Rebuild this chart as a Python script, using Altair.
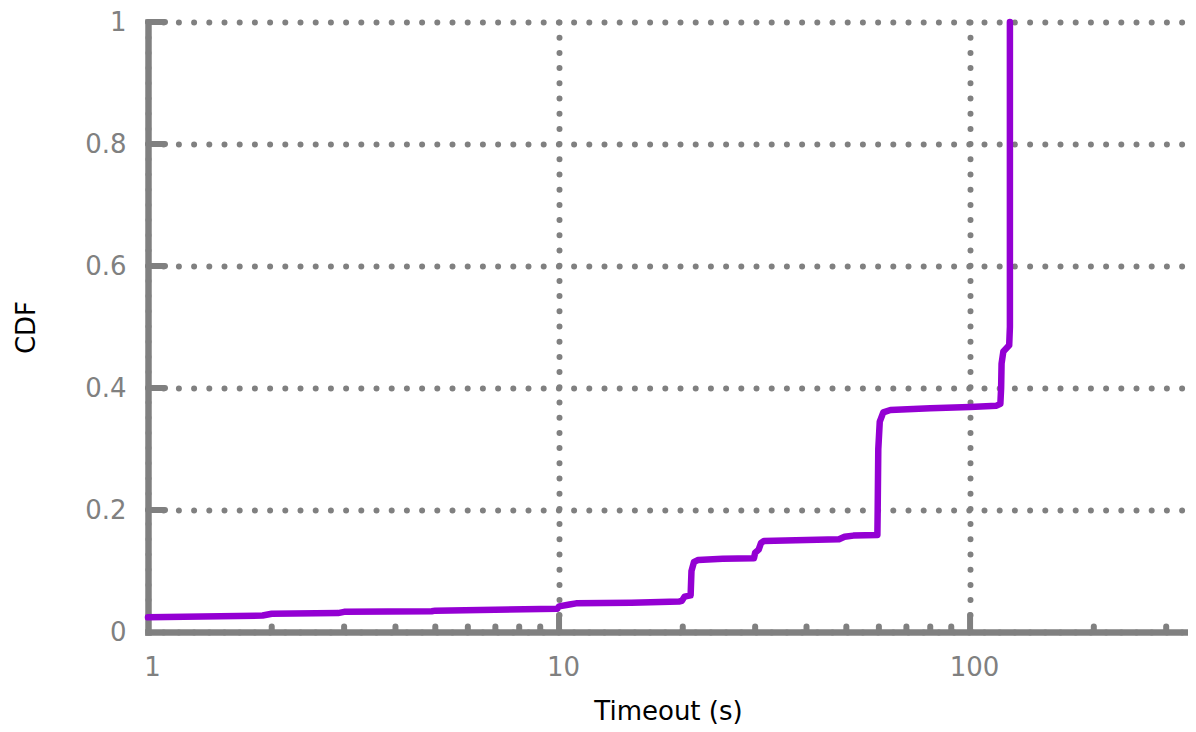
import altair as alt
import pandas as pd

# CDF curve (Timeout in seconds, cumulative fraction)
timeout_s = [1.0, 1.9, 2.0, 2.9, 3.0, 4.9, 5.0, 9.9, 10.0, 10.6, 11.0, 15.0, 19.6, 19.9,
             20.2, 20.9, 21.0, 21.3, 21.8, 25.0, 29.8, 30.0, 30.6, 31.0, 31.5, 40.0, 48.0,
             49.5, 52.0, 59.5, 59.6, 59.8, 60.3, 61.5, 64.0, 80.0, 100.0, 116.0, 118.5,
             119.0, 119.3, 120.5, 124.5, 125.0, 125.0]
cdf = [0.024, 0.027, 0.030, 0.031, 0.033, 0.034, 0.035, 0.038, 0.042, 0.045, 0.047, 0.048,
       0.050, 0.051, 0.058, 0.060, 0.100, 0.115, 0.118, 0.120, 0.121, 0.130, 0.135, 0.146,
       0.149, 0.151, 0.152, 0.156, 0.158, 0.159, 0.200, 0.300, 0.345, 0.360, 0.364, 0.367,
       0.369, 0.371, 0.374, 0.400, 0.440, 0.460, 0.470, 0.500, 1.000]

x_major = [1, 10, 100]
x_minor = [2, 3, 4, 5, 6, 7, 8, 9, 20, 30, 40, 50, 60, 70, 80, 90, 200, 300]
y_major = [0, 0.2, 0.4, 0.6, 0.8, 1.0]
x_domain = [1, 339]

GRAY = "#808080"
PURPLE = "#9400D3"
FONT = "DejaVu Sans"

curve = pd.DataFrame({"t": timeout_s, "cdf": cdf, "i": range(len(cdf))})
xticks = pd.DataFrame({
    "t": x_major[1:] + x_minor,
    "y0": [0.0] * (len(x_major) - 1 + len(x_minor)),
    "y1": [0.028] * (len(x_major) - 1) + [0.009] * len(x_minor),
})
yticks = pd.DataFrame({"v": y_major[1:], "x0": [1.0] * 5, "x1": [1.1] * 5})

xscale = alt.Scale(type="log", domain=x_domain, nice=False)
yscale = alt.Scale(domain=[0, 1], nice=False)

xaxis = alt.Axis(values=x_major, title="Timeout (s)", format="~g", ticks=False,
                 labelFlush=False, labelPadding=22, labelOffset=4,
                 titleY=66, titleBaseline="top")
yaxis = alt.Axis(values=y_major, title="CDF", format="~g", ticks=False,
                 labelFlush=False, labelPadding=22, titleX=-122, titleY=305,
                 titleAngle=-90, titleBaseline="middle", titleAlign="center")

tick_x = alt.Chart(xticks).mark_rule(color=GRAY, strokeWidth=6, strokeCap="round").encode(
    x=alt.X("t:Q", scale=xscale, axis=xaxis),
    y=alt.Y("y0:Q", scale=yscale, axis=yaxis),
    y2="y1:Q",
)
tick_y = alt.Chart(yticks).mark_rule(color=GRAY, strokeWidth=6, strokeCap="round").encode(
    x=alt.X("x0:Q", scale=xscale),
    x2="x1:Q",
    y=alt.Y("v:Q", scale=yscale),
)
line = alt.Chart(curve).mark_line(color=PURPLE, strokeWidth=6.5, strokeCap="round",
                                  strokeJoin="round").encode(
    x=alt.X("t:Q", scale=xscale),
    y=alt.Y("cdf:Q", scale=yscale),
    order="i:Q",
)

chart = alt.layer(tick_x, tick_y, line).properties(
    width=1040, height=610,
    autosize=alt.AutoSizeParams(type="none"),
    padding={"left": 140, "top": 14, "right": 0, "bottom": 92},
).configure_view(stroke=None).configure_axis(
    domainColor=GRAY, domainWidth=6.5, domainCap="square",
    grid=True, gridColor=GRAY, gridWidth=6, gridDash=[0, 15.2], gridCap="round",
    labelColor=GRAY, labelFont=FONT, labelFontSize=26, labelFontWeight="normal",
    titleColor="black", titleFont=FONT, titleFontSize=26, titleFontWeight="normal",
)

chart.save("out.html", embed_options={"renderer": "svg", "actions": False})
